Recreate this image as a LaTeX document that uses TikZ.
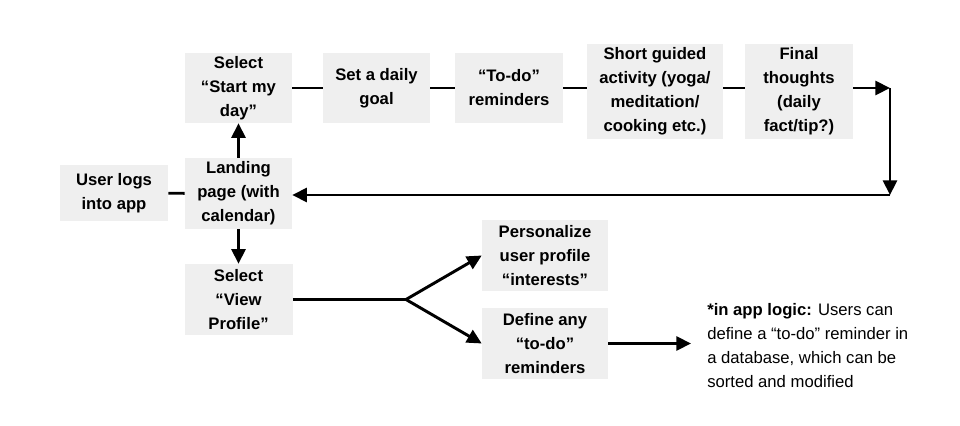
\documentclass[tikz,border=0pt]{standalone}
\usepackage{fontspec}
\setmainfont{Liberation Sans}
\usepackage{tikz}
\usetikzlibrary{positioning,arrows.meta,calc}
\definecolor{boxgray}{HTML}{EFEFEF}

\begin{document}
\begin{tikzpicture}[x=0.75pt,y=-0.75pt,
  box/.style={fill=boxgray,align=center,inner sep=0pt,font=\bfseries\fontsize{12.5}{18}\selectfont},
  boxsize/.style 2 args={minimum width=#1*0.75pt,minimum height=#2*0.75pt},
  link/.style={line width=2.2pt},
  flow/.style={line width=2.2pt,-{Triangle[length=11pt,width=10.5pt]}}]

  \useasboundingbox (0,0) rectangle (960,425);

  \node[box,boxsize={108}{56}] (login) at (114,193) {User logs\\into app};
  \node[box,boxsize={107}{71}] (landing) at (238.5,193.5) {Landing\\page (with\\calendar)};
  \node[box,boxsize={107}{70}] (startday) at (238.5,88) {Select\\“Start my\\day”};
  \node[box,boxsize={107}{70}] (goal) at (376.5,88) {Set a daily\\goal};
  \node[box,boxsize={108}{70}] (todo) at (509,88) {“To-do”\\reminders};
  \node[box,boxsize={136}{95}] (activity) at (655,91.5) {Short guided\\activity (yoga/\\meditation/\\cooking etc.)};
  \node[box,boxsize={108}{95}] (final) at (799,91.5) {Final\\thoughts\\(daily\\fact/tip?)};
  \node[box,boxsize={108}{71}] (viewprof) at (238.5,299.5) {Select\\“View\\Profile”};
  \node[box,boxsize={126}{71}] (personal) at (545,255.5) {Personalize\\user profile\\“interests”};
  \node[box,boxsize={126}{71}] (define) at (545,343.5) {Define any\\“to-do”\\reminders};
  \node[align=left,inner sep=0pt,anchor=west,font=\fontsize{12.5}{18}\selectfont] (note) at (707,346)
    {\textbf{*in app logic:} Users can\\define a “to-do” reminder in\\a database, which can be\\sorted and modified};

  \coordinate (corner) at (890,88);
  \coordinate (corner2) at (890,195);
  \coordinate (split) at (406,299.5);

  \path[link] (login) edge (landing);
  \path[flow] (landing) edge (startday);
  \path[flow] (landing) edge (viewprof);
  \path[link] (startday) edge (goal);
  \path[link] (goal) edge (todo);
  \path[link] (todo.east) edge (todo.east -| activity.west);
  \path[link] (activity.east |- todo.east) edge (final.west |- todo.east);
  \path[flow] (final.east |- todo.east) edge (corner);
  \path[flow] (corner) edge (corner2);
  \path[flow] (corner2) edge (corner2 -| landing.east);
  \path[link] (viewprof) edge (split);
  \path[flow] (split) edge (personal.west);
  \path[flow] (split) edge (define.west);
  \path[flow,shorten >=12pt] (define.east) edge (define.east -| note.west);

\end{tikzpicture}
\end{document}
